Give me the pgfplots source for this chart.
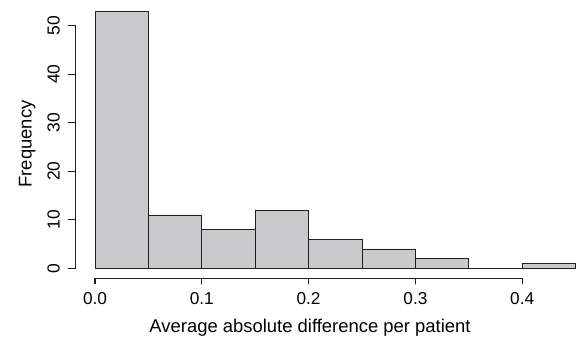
\documentclass[border=0pt]{standalone}
\usepackage{fontspec}
\setmainfont{Liberation Sans}
\usepackage{pgfplots}
\pgfplotsset{compat=1.18}
\definecolor{barfill}{RGB}{200,201,203}
\definecolor{axgray}{RGB}{30,30,30}
\begin{document}
\begin{tikzpicture}[x=1bp,y=1bp]
\begin{axis}[
  scale only axis,
  width=519bp, height=277.6bp,
  at={(75.8bp,60.4bp)}, anchor=south west,
  xmin=-0.018, xmax=0.468, ymin=-2.12, ymax=55.12,
  hide axis,
  clip=false,
]
\addplot[ybar interval, draw=axgray, line width=0.8bp, fill=barfill] coordinates {
  (0.00,53) (0.05,11) (0.10,8) (0.15,12) (0.20,6) (0.25,4) (0.30,2) (0.35,0) (0.40,1) (0.45,1)
};
% R-style x axis with ticks
\addplot[axgray, line width=1.1bp, mark=none] coordinates {
  (0,-3.3) (0,-2.12) (0.1,-2.12) (0.1,-3.3) (0.1,-2.12) (0.2,-2.12) (0.2,-3.3) (0.2,-2.12)
  (0.3,-2.12) (0.3,-3.3) (0.3,-2.12) (0.4,-2.12) (0.4,-3.3)
};
% R-style y axis with ticks
\addplot[axgray, line width=1.1bp, mark=none] coordinates {
  (-0.0252,0) (-0.018,0) (-0.018,10) (-0.0252,10) (-0.018,10) (-0.018,20) (-0.0252,20) (-0.018,20)
  (-0.018,30) (-0.0252,30) (-0.018,30) (-0.018,40) (-0.0252,40) (-0.018,40) (-0.018,50) (-0.0252,50)
};
\end{axis}
\foreach \tv/\lab in {0/0.0,0.1/0.1,0.2/0.2,0.3/0.3,0.4/0.4} {
  \pgfmathsetmacro{\px}{95+\tv*1068}
  \node[anchor=base, inner sep=0pt, font=\fontsize{17.3}{19}\selectfont] at (\px, 339-304.3) {\lab};
}
\foreach \tv in {0,10,20,30,40,50} {
  \pgfmathsetmacro{\py}{268.3-\tv*4.85}
  \node[anchor=base, rotate=90, inner sep=0pt, font=\fontsize{17.5}{19}\selectfont] at (59.5, 339-\py) {\tv};
}
\node[anchor=base, inner sep=0pt, font=\fontsize{18.5}{20}\selectfont] at (310, 339-332.5) {Average absolute difference per patient};
\node[anchor=base, rotate=90, inner sep=0pt, font=\fontsize{18.5}{20}\selectfont] at (31.7, 339-144) {Frequency};
\pgfresetboundingbox
\useasboundingbox (0,0) rectangle (577,339);
\end{tikzpicture}
\end{document}
